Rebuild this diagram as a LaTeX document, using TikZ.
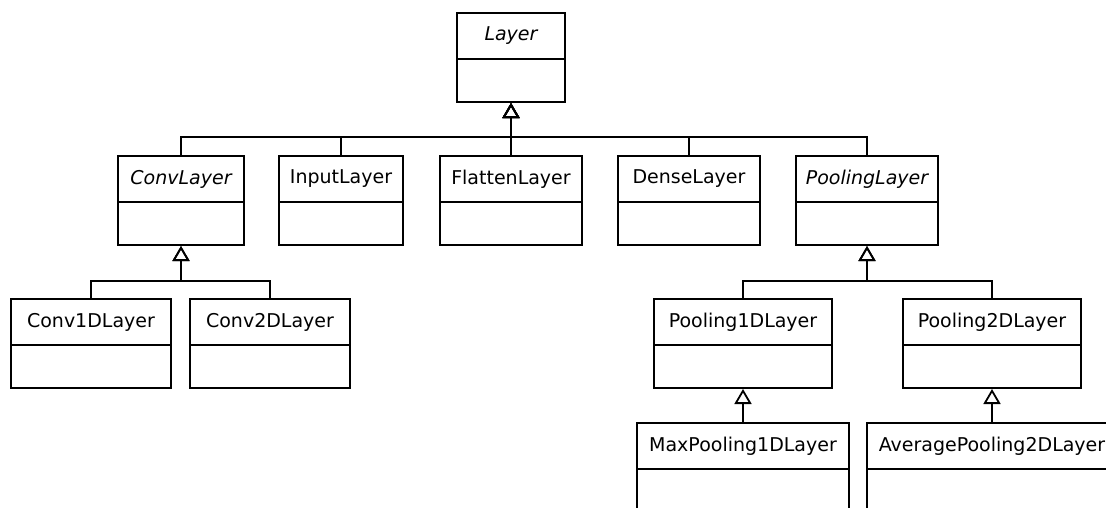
\documentclass[tikz,border=0pt]{standalone}
\usepackage{fontspec}
\setmainfont{DejaVu Sans}
\usetikzlibrary{arrows.meta}
\begin{document}
\begin{tikzpicture}[x=1pt,y=-1pt,
  line width=2pt,
  hdr/.style={draw, line width=2pt, inner sep=0pt, outer sep=0pt, minimum height=46pt, anchor=north,
              font=\fontsize{19}{22}\selectfont},
  bdy/.style={draw, line width=2pt, inner sep=0pt, outer sep=1pt, minimum height=43pt, anchor=north},
  gen/.style={draw, line width=2pt, -{Triangle[open, length=15pt, width=17pt, line width=1.8pt]}}
]
\useasboundingbox (0,0) rectangle (1106,507);
\clip (0,0) rectangle (1106,507);

% class boxes: name compartment over an empty body compartment
\newcommand{\umlclass}[6]{%
  \node[hdr, minimum width=#4pt] (#1) at (#2,#3) {#6};
  \node[bdy, minimum width=#4pt, minimum height=#5pt] (#1b) at ([yshift=1pt]#1.south) {};
}

\umlclass{layer}{511}{13}{108}{43}{\itshape Layer}

\umlclass{conv}{181}{156}{126}{43}{\itshape ConvLayer}
\umlclass{input}{341}{156}{124}{43}{InputLayer}
\umlclass{flatten}{511}{156}{142}{43}{FlattenLayer}
\umlclass{dense}{689}{156}{142}{43}{DenseLayer}
\umlclass{pool}{867}{156}{142}{43}{\itshape PoolingLayer}

\umlclass{convA}{91}{299}{160}{43}{Conv1DLayer}
\umlclass{convB}{270}{299}{160}{43}{Conv2DLayer}
\umlclass{poolA}{743}{299}{178}{43}{Pooling1DLayer}
\umlclass{poolB}{992}{299}{178}{43}{Pooling2DLayer}

\umlclass{maxpool}{743}{423}{212}{60}{MaxPooling1DLayer}
\umlclass{avgpool}{992}{423}{250}{60}{AveragePooling2DLayer}

% bus levels for the generalization trees
\coordinate (busA) at (0,137);
\coordinate (busB) at (0,281);

\foreach \c in {conv,input,flatten,dense,pool}
  \draw[gen] (\c.north) -- (\c.north |- busA) -- (layerb.south |- busA) -- (layerb.south);

\foreach \c in {convA,convB}
  \draw[gen] (\c.north) -- (\c.north |- busB) -- (convb.south |- busB) -- (convb.south);

\foreach \c in {poolA,poolB}
  \draw[gen] (\c.north) -- (\c.north |- busB) -- (poolb.south |- busB) -- (poolb.south);

\draw[gen] (maxpool.north) -- (poolAb.south);
\draw[gen] (avgpool.north) -- (poolBb.south);
\end{tikzpicture}
\end{document}
